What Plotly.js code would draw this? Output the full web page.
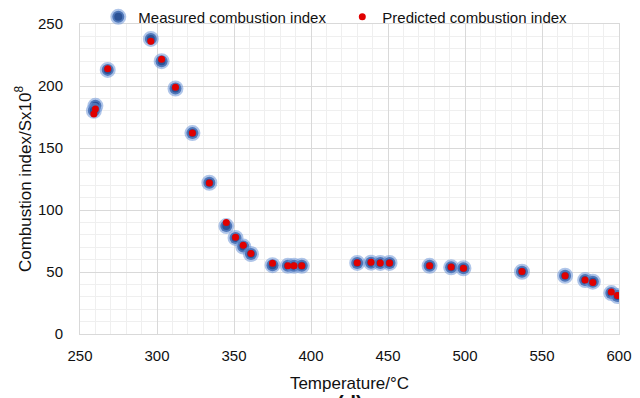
<!DOCTYPE html>
<html>
<head>
<meta charset="utf-8">
<script src="https://cdn.plot.ly/plotly-3.0.1.min.js"></script>
<style>
html,body{margin:0;padding:0;background:#fff;}
#chart{width:640px;height:398px;}
</style>
</head>
<body>
<div id="chart"></div>
<script>
// Measured combustion index (S x 10^8) vs temperature (°C)
const measuredT = [260, 259, 268, 296, 303, 312, 323, 334, 345, 351, 356, 361, 375, 385, 389, 394, 430, 439, 445, 451, 477, 491, 499, 537, 565, 578, 583, 595, 599];
const measuredS = [184, 180, 213, 238, 220, 198, 162, 122, 87, 77.5, 70.5, 64.5, 55.5, 55, 55, 55, 57.3, 57.5, 57.3, 57.3, 55, 53.8, 53, 50.2, 47, 43.5, 42.2, 33, 30.6];
// Predicted combustion index
const predictedT = [260, 259, 268, 296, 303, 312, 323, 334, 345, 351, 356, 361, 375, 385, 389, 394, 430, 439, 445, 451, 477, 491, 499, 537, 565, 578, 583, 595, 599];
const predictedS = [181.5, 177.5, 214, 236, 221.5, 199, 162, 121.7, 90, 78, 71.6, 65, 57, 55, 55, 55, 57.5, 57.8, 57.3, 57.3, 55, 54, 53, 50.5, 47, 43.5, 41.6, 33.8, 31];
const xTicks = [250, 300, 350, 400, 450, 500, 550, 600];
const yTicks = [0, 50, 100, 150, 200, 250];

const font = "Liberation Sans, Arial, Helvetica, sans-serif";

const traces = [
  {
    x: measuredT, y: measuredS, type: 'scatter', mode: 'markers',
    name: 'Measured combustion index',
    marker: {size: 12, color: '#2c5296', line: {color: 'rgba(110,150,215,0.55)', width: 4}}
  },
  {
    x: predictedT, y: predictedS, type: 'scatter', mode: 'markers',
    name: 'Predicted combustion index',
    marker: {size: 7, color: '#e00000', line: {width: 0}}
  }
];

const layout = {
  width: 640, height: 398,
  margin: {l: 79.6, r: 20.5, t: 24, b: 64, pad: 0, autoexpand: false},
  paper_bgcolor: '#fff', plot_bgcolor: '#fff',
  font: {family: font, size: 15, color: '#111'},
  showlegend: true,
  legend: {
    orientation: 'h', xref: 'container', yref: 'container',
    x: 0.1536, y: 0.957, xanchor: 'left', yanchor: 'middle',
    font: {family: font, size: 15, color: '#111'},
    bgcolor: 'rgba(0,0,0,0)', entrywidth: 199, entrywidthmode: 'pixels',
    tracegroupgap: 0
  },
  xaxis: {
    range: [250, 600], tickvals: xTicks, ticktext: xTicks.map(String),
    showgrid: true, gridcolor: '#d9d9d9', gridwidth: 1,
    minor: {dtick: 10, tick0: 250, showgrid: true, gridcolor: '#efefef', gridwidth: 1},
    zeroline: false, showline: true, linecolor: '#d9d9d9', mirror: true,
    ticks: '', ticklabelstandoff: 8,
    tickfont: {family: font, size: 15, color: '#111'},
    title: {text: 'Temperature/°C', font: {family: font, size: 17, color: '#111'}, standoff: 14},
    automargin: false, fixedrange: true
  },
  yaxis: {
    range: [0, 250], tickvals: yTicks, ticktext: yTicks.map(String),
    showgrid: true, gridcolor: '#d9d9d9', gridwidth: 1,
    minor: {dtick: 10, tick0: 0, showgrid: true, gridcolor: '#efefef', gridwidth: 1},
    zeroline: false, showline: true, linecolor: '#d9d9d9', mirror: true,
    ticks: '', ticklabelstandoff: 13,
    tickfont: {family: font, size: 15, color: '#111'},
    title: {text: 'Combustion index/Sx10<sup>8</sup>', font: {family: font, size: 17, color: '#111'}, standoff: 2},
    automargin: false, fixedrange: true
  },
  annotations: [
    {text: '<b>(d)</b>', xref: 'paper', yref: 'paper', x: 0.5, y: -0.222,
     xanchor: 'center', yanchor: 'middle', showarrow: false,
     font: {family: font, size: 20, color: '#111'}}
  ]
};

Plotly.newPlot('chart', traces, layout, {displayModeBar: false, staticPlot: true});
</script>
</body>
</html>
